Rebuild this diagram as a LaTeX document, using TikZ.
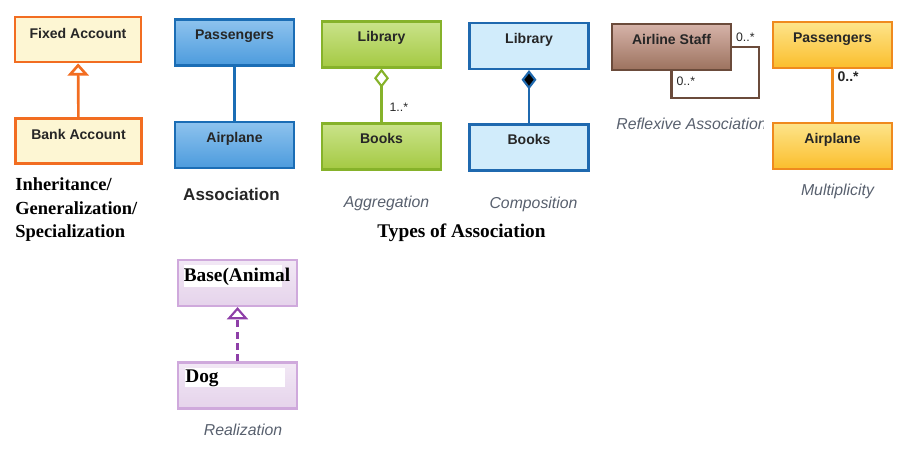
\documentclass[tikz,border=0pt]{standalone}
\usepackage{fontspec}
\setmainfont{Liberation Serif}
\setsansfont{Liberation Sans}
\usepackage{xcolor}
\usepackage{tikz}
\usetikzlibrary{arrows.meta, positioning, calc}
\definecolor{inhline}{HTML}{F26D21}
\definecolor{inhfill}{HTML}{FDF6D3}
\definecolor{asline}{HTML}{1B6DB5}
\definecolor{astop}{HTML}{8EC3EE}
\definecolor{asbot}{HTML}{4C9BDD}
\definecolor{agline}{HTML}{86B22A}
\definecolor{agtop}{HTML}{CAE38A}
\definecolor{agbot}{HTML}{A4C942}
\definecolor{coline}{HTML}{1F69AF}
\definecolor{cofill}{HTML}{D1ECFB}
\definecolor{rfline}{HTML}{6B4B3B}
\definecolor{rftop}{HTML}{D6B3A9}
\definecolor{rfbot}{HTML}{9C725E}
\definecolor{muline}{HTML}{EF8A1E}
\definecolor{mutop}{HTML}{FDE48A}
\definecolor{mubot}{HTML}{FBBE2C}
\definecolor{reline}{HTML}{CFA9DC}
\definecolor{retop}{HTML}{F2E8F5}
\definecolor{rebot}{HTML}{E5D3EB}
\definecolor{rearrow}{HTML}{8E3FA8}
\definecolor{capgray}{HTML}{58606E}
\tikzset{
    umlbox/.style={draw, rectangle, minimum width=2.38cm, minimum height=0.92cm,
        inner xsep=0pt, inner ysep=0pt, text height=0.4cm, text depth=0.52cm,
        line width=1.2pt, text=black!85,
        font=\sffamily\bfseries\fontsize{8}{9}\selectfont},
    plainbox/.style={umlbox, text height=0pt, text depth=0pt},
    link/.style={line width=1.2pt},
    mult/.style={font=\sffamily\fontsize{7}{8}\selectfont, text=black!85, inner sep=1pt},
    % captions under each little diagram
    caption/.style={font=\sffamily\itshape\fontsize{9}{10}\selectfont, text=capgray},
    heading/.style={font=\bfseries\fontsize{11}{13}\selectfont},
    serifname/.style={font=\bfseries\fontsize{11}{13}\selectfont, fill=white,
        inner sep=0pt, anchor=north west, align=left},
    hollowtri/.style={-{Triangle[open, length=7pt, width=12pt, fill=white]}},
}
\begin{document}
\begin{tikzpicture}[x=0.02cm, y=-0.02cm]
    \useasboundingbox (0,0) rectangle (899,460);

    % inheritance
    \node[umlbox, draw=inhline, fill=inhfill, line width=1.5pt, minimum width=2.52cm,
        minimum height=0.9cm, text height=0.42cm, text depth=0.48cm] (fixed) at (78,39.5) {Fixed Account};
    \node[umlbox, draw=inhline, fill=inhfill, line width=1.5pt, minimum width=2.52cm,
        minimum height=0.9cm, text height=0.42cm, text depth=0.48cm] (bank) at (78.5,141) {Bank Account};
    \draw[link, draw=inhline, line width=1.5pt, hollowtri] (bank) -- (fixed);
    \node[anchor=north west, align=left, inner sep=0pt, font=\bfseries\fontsize{10.5}{13.6}\selectfont]
        (inhcap) at (15,177) {Inheritance/\\Generalization/\\Specialization};

    % association
    \node[umlbox, draw=asline, top color=astop, bottom color=asbot] (pass1) at (234.5,42.5) {Passengers};
    \node[umlbox, draw=asline, top color=astop, bottom color=asbot] (air1) at (234.5,145) {Airplane};
    \draw[link, draw=asline] (pass1) -- (air1);
    \node[font=\sffamily\bfseries\fontsize{9.7}{11}\selectfont, text=black!85] (ascap) at (231.5,194) {Association};

    % aggregation
    \node[umlbox, draw=agline, top color=agtop, bottom color=agbot] (libg) at (381.5,44.5) {Library};
    \node[umlbox, draw=agline, top color=agtop, bottom color=agbot] (booksg) at (381.5,146.5) {Books};
    \draw[link, draw=agline, {Diamond[open, length=11pt, width=8.5pt, fill=white]}-] (libg) -- (booksg)
        node[mult, pos=0.72, right=3pt] {1..*};
    \node[caption] (agcap) at (386.5,203) {Aggregation};

    % composition
    \node[umlbox, draw=coline, fill=cofill] (libb) at (529,46) {Library};
    \node[umlbox, draw=coline, fill=cofill] (booksb) at (529,147.5) {Books};
    \draw[link, draw=coline, {Diamond[length=11pt, width=8.5pt, fill=black]}-] (libb) -- (booksb);
    \node[caption] (cocap) at (533.5,204) {Composition};

    \node[heading] (types) at (461.5,233) {Types of Association};

    % reflexive association
    \node[umlbox, draw=rfline, top color=rftop, bottom color=rfbot] (staff) at (671.5,47) {Airline Staff};
    \coordinate (loop) at (759,98);
    \draw[link, draw=rfline, line width=1.4pt] (staff.east) -| (loop) -| (staff.south);
    \node[mult, anchor=south west] at ($(staff.east)+(2,-3)$) {0..*};
    \node[mult, anchor=north west] at ($(staff.south)+(3,4)$) {0..*};
    \begin{scope}
        \clip (600,110) rectangle (763,140);
        \node[caption, anchor=west, inner xsep=0pt] (rfcap) at (616,124) {Reflexive Association};
    \end{scope}

    % multiplicity
    \node[umlbox, draw=muline, top color=mutop, bottom color=mubot] (pass2) at (832.5,45) {Passengers};
    \node[umlbox, draw=muline, top color=mutop, bottom color=mubot] (air2) at (832.5,146) {Airplane};
    \draw[link, draw=muline] (pass2) -- (air2);
    \node[mult, font=\sffamily\bfseries\fontsize{8}{9}\selectfont, anchor=north west] at ($(pass2.south)+(3,1)$) {0..*};
    \node[caption] (mucap) at (837.5,191) {Multiplicity};

    % realization
    \node[plainbox, draw=reline, top color=retop, bottom color=rebot] (base) at (237.5,283) {};
    \node[plainbox, draw=reline, top color=retop, bottom color=rebot] (dog) at (237.5,385.5) {};
    \node[serifname, text width=1.96cm, minimum height=0.44cm] (basetxt) at (183.5,265) {Base(Animal};
    \node[serifname, text width=2cm, minimum height=0.38cm] (dogtxt) at (185,368) {Dog};
    \draw[link, draw=rearrow, dash pattern=on 4pt off 2.5pt, hollowtri] (dog) -- (base);
    \node[caption] (recap) at (243,430) {Realization};
\end{tikzpicture}
\end{document}
